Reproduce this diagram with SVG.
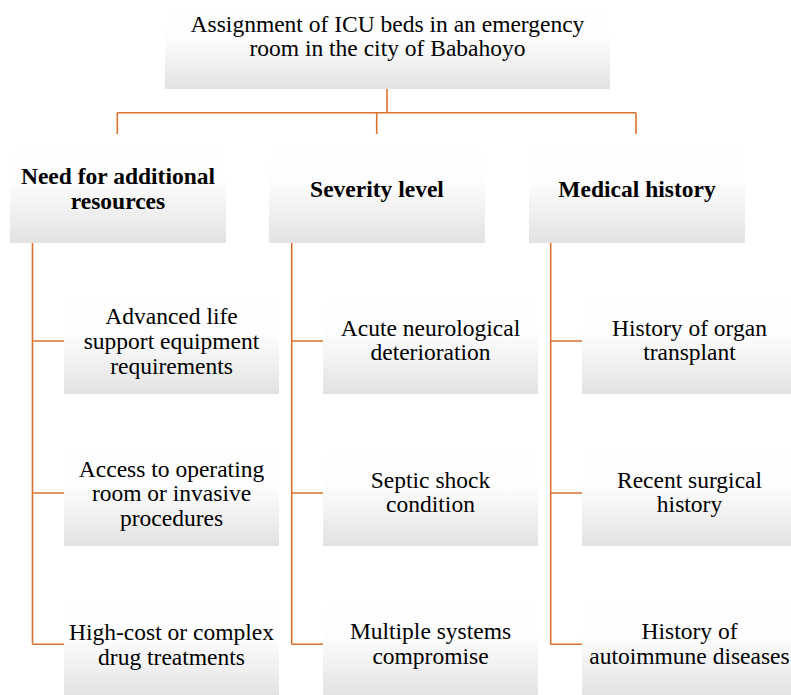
<svg xmlns="http://www.w3.org/2000/svg" width="791" height="695" viewBox="0 0 791 695">
<defs>
<linearGradient id="g" x1="0" y1="0" x2="0" y2="1">
<stop offset="0" stop-color="#ffffff"/>
<stop offset="0.45" stop-color="#fdfdfd"/>
<stop offset="1" stop-color="#e2e2e2"/>
</linearGradient>
<style>
.box{fill:url(#g);stroke:none}
.t{font-family:'Liberation Serif','Times New Roman','DejaVu Serif',serif;font-size:23.5px;fill:#000;text-anchor:middle}
.b{font-weight:bold}
.c{fill:none;stroke:#d9722f;stroke-width:1.6}
</style>
</defs>
<rect width="791" height="695" fill="#ffffff"/>
<g id="connectors">
<path class="c" d="M387,89 V112.7 M117.3,112.7 H636 M117.3,112.7 V134 M376.7,112.7 V134 M636,112.7 V134"/>
<path class="c" d="M32.5,243 V644.3 M32.5,341 H64 M32.5,493 H64 M32.5,644.3 H64"/>
<path class="c" d="M291.7,243 V644.3 M291.7,341 H323 M291.7,493 H323 M291.7,644.3 H323"/>
<path class="c" d="M550.7,243 V644.3 M550.7,341 H582 M550.7,493 H582 M550.7,644.3 H582"/>
</g>
<g id="root">
<rect class="box" x="165" y="0" width="445" height="89"/>
<text class="t" font-family="Liberation Serif, serif" x="387.5" y="31.7">Assignment of ICU beds in an emergency</text>
<text class="t" font-family="Liberation Serif, serif" x="387.5" y="55.5">room in the city of Babahoyo</text>
</g>
<g id="n1">
<rect class="box" x="10" y="134" width="216" height="109"/>
<text class="t b" x="118" y="183.5">Need for additional</text>
<text class="t b" x="118" y="208.5">resources</text>
</g>
<g id="n2">
<rect class="box" x="269" y="134" width="216" height="109"/>
<text class="t b" x="377" y="196.5">Severity level</text>
</g>
<g id="n3">
<rect class="box" x="529" y="134" width="216" height="109"/>
<text class="t b" x="637" y="196.5">Medical history</text>
</g>
<g id="n1a">
<rect class="box" x="64" y="288" width="215" height="106"/>
<text class="t" x="171.5" y="324">Advanced life</text>
<text class="t" x="171.5" y="349">support equipment</text>
<text class="t" x="171.5" y="373.5">requirements</text>
</g>
<g id="n1b">
<rect class="box" x="64" y="440" width="215" height="106"/>
<text class="t" x="171.5" y="476.5">Access to operating</text>
<text class="t" x="171.5" y="501">room or invasive</text>
<text class="t" x="171.5" y="525.5">procedures</text>
</g>
<g id="n1c">
<rect class="box" x="64" y="591" width="215" height="106"/>
<text class="t" x="171.5" y="640">High-cost or complex</text>
<text class="t" x="171.5" y="664.5">drug treatments</text>
</g>
<g id="n2a">
<rect class="box" x="323" y="288" width="215" height="106"/>
<text class="t" x="430.5" y="335.5">Acute neurological</text>
<text class="t" x="430.5" y="360">deterioration</text>
</g>
<g id="n2b">
<rect class="box" x="323" y="440" width="215" height="106"/>
<text class="t" x="430.5" y="487.5">Septic shock</text>
<text class="t" x="430.5" y="512">condition</text>
</g>
<g id="n2c">
<rect class="box" x="323" y="591" width="215" height="106"/>
<text class="t" x="430.5" y="639">Multiple systems</text>
<text class="t" x="430.5" y="663.5">compromise</text>
</g>
<g id="n3a">
<rect class="box" x="582" y="288" width="215" height="106"/>
<text class="t" x="689.5" y="335.5">History of organ</text>
<text class="t" x="689.5" y="360">transplant</text>
</g>
<g id="n3b">
<rect class="box" x="582" y="440" width="215" height="106"/>
<text class="t" x="689.5" y="487.5">Recent surgical</text>
<text class="t" x="689.5" y="512">history</text>
</g>
<g id="n3c">
<rect class="box" x="582" y="591" width="215" height="106"/>
<text class="t" x="689.5" y="639">History of</text>
<text class="t" x="689.5" y="663.5">autoimmune diseases</text>
</g>
</svg>
